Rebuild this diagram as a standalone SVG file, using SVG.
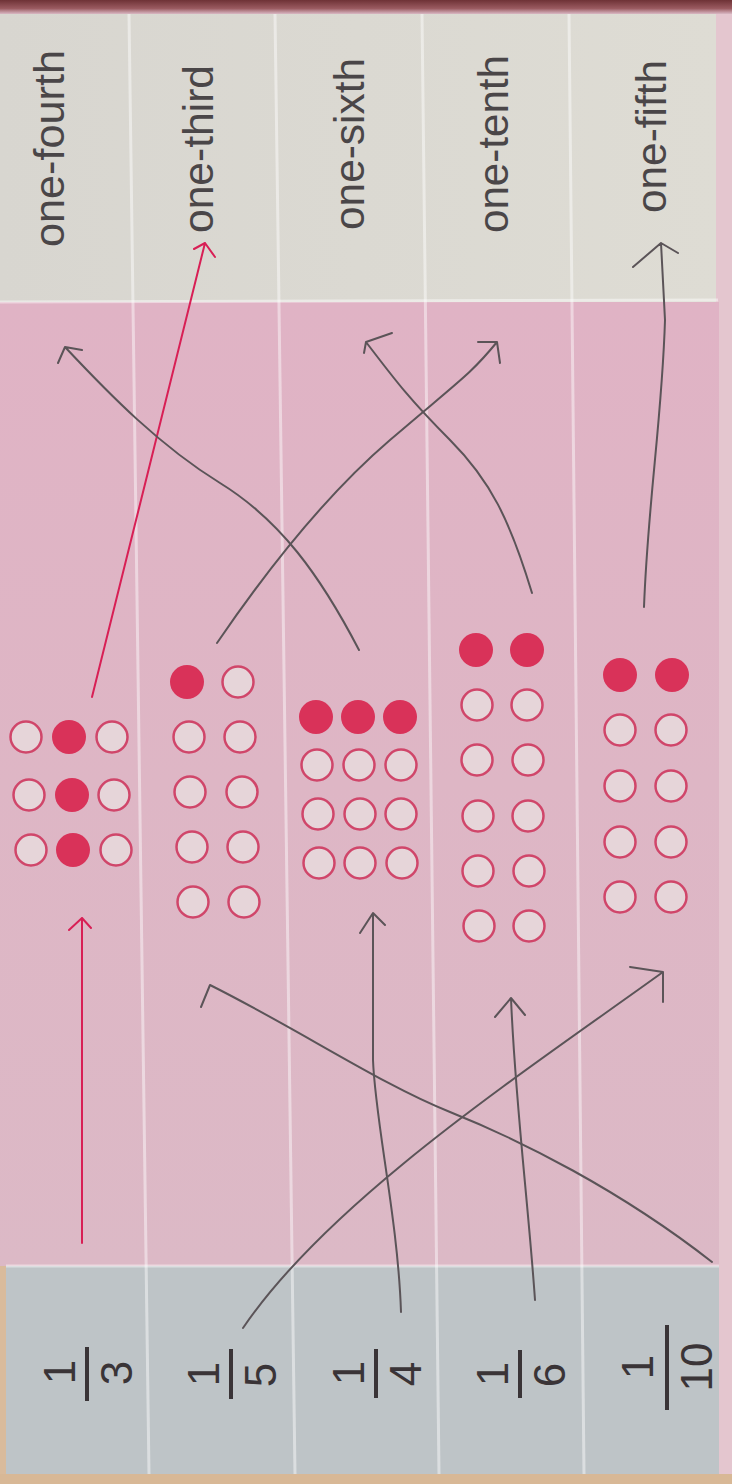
<svg xmlns="http://www.w3.org/2000/svg" width="732" height="1484" viewBox="0 0 732 1484">
<defs>
<linearGradient id="topband" x1="0" y1="0" x2="0" y2="1">
<stop offset="0" stop-color="#6e3236"/>
<stop offset="0.6" stop-color="#9a5a60"/>
<stop offset="1" stop-color="#d9b8c4"/>
</linearGradient>
<linearGradient id="pinkg" x1="0" y1="0" x2="0" y2="1">
<stop offset="0" stop-color="#e0b3c5"/>
<stop offset="0.5" stop-color="#deb6c5"/>
<stop offset="1" stop-color="#dcb9c6"/>
</linearGradient>
<linearGradient id="wordg" x1="0" y1="0" x2="1" y2="0">
<stop offset="0" stop-color="#d8d6d0"/>
<stop offset="1" stop-color="#dedcd4"/>
</linearGradient>
<style>
.w{font-family:"Liberation Sans",Arial,sans-serif;font-size:43px;fill:#4a4648}
.f{font-family:"Liberation Sans",Arial,sans-serif;font-size:44px;fill:#3a3437}
.bar{stroke:#3a3437;stroke-width:4}
.o{fill:#e6d5d9;stroke:#d0466a;stroke-width:2.5}
.d{fill:#d93259}
.pen{fill:none;stroke:#5b5458;stroke-width:2;stroke-linecap:round;stroke-linejoin:round}
.red{fill:none;stroke:#d81f55;stroke-width:2;stroke-linecap:round;stroke-linejoin:round}
.div{stroke:#ffffff;stroke-opacity:0.45;stroke-width:3}
</style>
</defs>

<g id="page">
<rect x="0" y="0" width="732" height="1484" fill="#e4c6cf"/>
<rect x="0" y="0" width="732" height="14" fill="url(#topband)"/>
<rect x="0" y="14" width="716" height="289" fill="url(#wordg)"/>
<rect x="0" y="302" width="719" height="964" fill="url(#pinkg)"/>
<rect x="6" y="1266" width="713" height="208" fill="#bec4c7"/>
<rect x="0" y="1266" width="6" height="218" fill="#d9bb9c"/>
<rect x="0" y="1474" width="732" height="10" fill="#d8b896"/>
<line class="div" x1="0" y1="302" x2="718" y2="300"/>
<line class="div" x1="6" y1="1266" x2="719" y2="1266"/>
<line class="div" x1="129" y1="14" x2="149" y2="1474"/>
<line class="div" x1="275" y1="14" x2="295" y2="1474"/>
<line class="div" x1="422" y1="14" x2="439" y2="1474"/>
<line class="div" x1="569" y1="14" x2="584" y2="1474"/>
</g>

<g id="word-one-fourth"><text class="w" transform="translate(64,247) rotate(-90)" textLength="197" lengthAdjust="spacingAndGlyphs">one-fourth</text></g>
<g id="word-one-third"><text class="w" transform="translate(213,233) rotate(-90)" textLength="168" lengthAdjust="spacingAndGlyphs">one-third</text></g>
<g id="word-one-sixth"><text class="w" transform="translate(364,230) rotate(-90)" textLength="172" lengthAdjust="spacingAndGlyphs">one-sixth</text></g>
<g id="word-one-tenth"><text class="w" transform="translate(508,233) rotate(-90)" textLength="178" lengthAdjust="spacingAndGlyphs">one-tenth</text></g>
<g id="word-one-fifth"><text class="w" transform="translate(666,213) rotate(-90)" textLength="153" lengthAdjust="spacingAndGlyphs">one-fifth</text></g>

<g id="dots-thirds">
<circle class="o" cx="26" cy="737" r="15.5"/><circle class="d" cx="69" cy="737" r="17"/><circle class="o" cx="112" cy="737" r="15.5"/>
<circle class="o" cx="29" cy="795" r="15.5"/><circle class="d" cx="72" cy="795" r="17"/><circle class="o" cx="114" cy="795" r="15.5"/>
<circle class="o" cx="31" cy="850" r="15.5"/><circle class="d" cx="73" cy="850" r="17"/><circle class="o" cx="116" cy="850" r="15.5"/>
</g>

<g id="dots-tenths-a">
<circle class="d" cx="187" cy="682" r="17"/><circle class="o" cx="238" cy="682" r="15.5"/>
<circle class="o" cx="189" cy="737" r="15.5"/><circle class="o" cx="240" cy="737" r="15.5"/>
<circle class="o" cx="190" cy="792" r="15.5"/><circle class="o" cx="242" cy="792" r="15.5"/>
<circle class="o" cx="192" cy="847" r="15.5"/><circle class="o" cx="243" cy="847" r="15.5"/>
<circle class="o" cx="193" cy="902" r="15.5"/><circle class="o" cx="244" cy="902" r="15.5"/>
</g>

<g id="dots-fourths">
<circle class="d" cx="316" cy="717" r="17"/><circle class="d" cx="358" cy="717" r="17"/><circle class="d" cx="400" cy="717" r="17"/>
<circle class="o" cx="317" cy="765" r="15.5"/><circle class="o" cx="359" cy="765" r="15.5"/><circle class="o" cx="401" cy="765" r="15.5"/>
<circle class="o" cx="318" cy="814" r="15.5"/><circle class="o" cx="360" cy="814" r="15.5"/><circle class="o" cx="401" cy="814" r="15.5"/>
<circle class="o" cx="319" cy="863" r="15.5"/><circle class="o" cx="360" cy="863" r="15.5"/><circle class="o" cx="402" cy="863" r="15.5"/>
</g>

<g id="dots-sixths">
<circle class="d" cx="476" cy="650" r="17"/><circle class="d" cx="527" cy="650" r="17"/>
<circle class="o" cx="477" cy="705" r="15.5"/><circle class="o" cx="527" cy="705" r="15.5"/>
<circle class="o" cx="477" cy="760" r="15.5"/><circle class="o" cx="528" cy="760" r="15.5"/>
<circle class="o" cx="478" cy="816" r="15.5"/><circle class="o" cx="528" cy="816" r="15.5"/>
<circle class="o" cx="478" cy="871" r="15.5"/><circle class="o" cx="529" cy="871" r="15.5"/>
<circle class="o" cx="479" cy="926" r="15.5"/><circle class="o" cx="529" cy="926" r="15.5"/>
</g>

<g id="dots-fifths">
<circle class="d" cx="620" cy="675" r="17"/><circle class="d" cx="672" cy="675" r="17"/>
<circle class="o" cx="620" cy="730" r="15.5"/><circle class="o" cx="671" cy="730" r="15.5"/>
<circle class="o" cx="620" cy="786" r="15.5"/><circle class="o" cx="671" cy="786" r="15.5"/>
<circle class="o" cx="620" cy="842" r="15.5"/><circle class="o" cx="671" cy="842" r="15.5"/>
<circle class="o" cx="620" cy="897" r="15.5"/><circle class="o" cx="671" cy="897" r="15.5"/>
</g>

<g id="frac-1-3"><text class="f" text-anchor="middle" transform="translate(75,1372) rotate(-90)">1</text><line class="bar" x1="87" y1="1347" x2="87" y2="1401"/><text class="f" text-anchor="middle" transform="translate(132,1373) rotate(-90)">3</text></g>
<g id="frac-1-5"><text class="f" text-anchor="middle" transform="translate(219,1374) rotate(-90)">1</text><line class="bar" x1="231" y1="1349" x2="231" y2="1399"/><text class="f" text-anchor="middle" transform="translate(276,1375) rotate(-90)">5</text></g>
<g id="frac-1-4"><text class="f" text-anchor="middle" transform="translate(364,1373) rotate(-90)">1</text><line class="bar" x1="376" y1="1349" x2="376" y2="1398"/><text class="f" text-anchor="middle" transform="translate(421,1374) rotate(-90)">4</text></g>
<g id="frac-1-6"><text class="f" text-anchor="middle" transform="translate(508,1374) rotate(-90)">1</text><line class="bar" x1="520" y1="1350" x2="520" y2="1398"/><text class="f" text-anchor="middle" transform="translate(565,1375) rotate(-90)">6</text></g>
<g id="frac-1-10"><text class="f" text-anchor="middle" transform="translate(653,1367) rotate(-90)">1</text><line class="bar" x1="667" y1="1325" x2="667" y2="1410"/><text class="f" text-anchor="middle" transform="translate(712,1367) rotate(-90)">10</text></g>

<g id="connectors">
<path class="red" d="M82,1243 L82,918 M69,930 L82,918 L91,928"/>
<path class="red" d="M92,697 L205,243 M194,249 L205,243 L215,257"/>
<path class="pen" d="M243,1328 C330,1200 520,1075 663,972 M630,967 L663,972 L663,1002"/>
<path class="pen" d="M401,1312 C398,1220 375,1120 373,1060 L373,915 M360,933 L373,913 L385,925"/>
<path class="pen" d="M535,1300 C528,1200 515,1100 511,998 M495,1017 L511,998 L525,1015"/>
<path class="pen" d="M712,1262 C620,1190 520,1140 450,1112 S300,1030 210,985 L201,1007"/>
<path class="pen" d="M359,650 C320,575 280,520 220,483 S110,395 65,347 M58,363 L65,347 L82,350"/>
<path class="pen" d="M217,643 C260,580 320,500 390,440 S470,375 497,342 M478,342 L497,342 L500,363"/>
<path class="pen" d="M532,593 C510,520 490,480 450,440 S395,380 366,342 M364,353 L366,342 L392,333"/>
<path class="pen" d="M644,607 C648,500 662,420 665,320 L661,243 M633,267 L661,243 L678,253"/>
</g>
</svg>
